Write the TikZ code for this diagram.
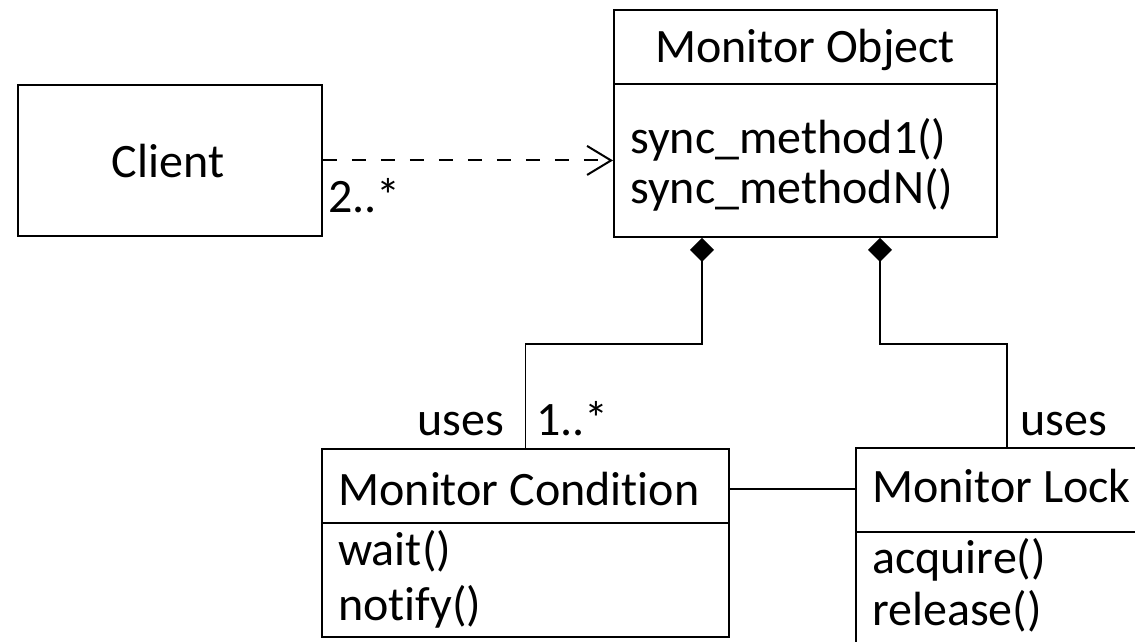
\documentclass[tikz,border=0pt]{standalone}
\usepackage{fontspec}
\setmainfont{Carlito}[Ligatures=NoCommon]
\usetikzlibrary{arrows.meta}
\begin{document}
\begin{tikzpicture}[x=1pt,y=-1pt,
  classbox/.style={draw, line width=1.9pt, rectangle, anchor=north west, inner sep=0pt},
  divider/.style={line width=1.9pt},
  txt/.style={font=\fontsize{48}{56}\selectfont, inner sep=0pt},
  dep/.style={line width=2pt, dash pattern=on 14pt off 15pt,
    -{Straight Barb[length=24pt,width=29pt,line width=2pt]}},
  comp/.style={line width=1.9pt, {Diamond[length=24pt,width=24pt]}-},
  assoc/.style={line width=1.1pt}]
\useasboundingbox (0,0) rectangle (1135,642);
\clip (0,0) rectangle (1135,642);

% class boxes
\node[classbox, minimum width=304pt, minimum height=151pt] (client) at (17,84) {};
\node[classbox, minimum width=383pt, minimum height=227pt] (mo) at (613,9) {};
\node[classbox, minimum width=407pt, minimum height=188pt] (mc) at (321,448) {};
\node[classbox, minimum width=302pt, minimum height=215pt] (ml) at (855,447) {};

% compartment dividers
\draw[divider] ([yshift=-75pt]mo.north west) -- ([yshift=-75pt]mo.north east);
\draw[divider] ([yshift=-75pt]mc.north west) -- ([yshift=-75pt]mc.north east);
\draw[divider] ([yshift=-85pt]ml.north west) -- ([yshift=-85pt]ml.north east);

% class texts
\node[txt, anchor=base] (clientname) at (168,177) {Client};
\node[txt, anchor=base] (moname) at (805,63) {Monitor Object};
\node[txt, anchor=base west] (m1) at (630,153) {sync\_method1()};
\node[txt, anchor=base west] (mN) at (630,203) {sync\_methodN()};
\node[txt, anchor=base] (mcname) at (519,505) {Monitor Condition};
\node[txt, anchor=base west] (wait) at (338,565) {wait()};
\node[txt, anchor=base west] (notify) at (338,620) {notify()};
\node[txt, anchor=base west] (mlname) at (872,502) {Monitor Lock};
\node[txt, anchor=base west] (acq) at (872,573) {acquire()};
\node[txt, anchor=base west] (rel) at (872,625) {release()};

% connectors
\draw[dep] (client.east) -- (client.east -| mo.west);
\draw[comp] ([xshift=89pt]mo.south west) -- ++(0,106) -| (mc.north);
\draw[comp] ([xshift=267pt]mo.south west) -- ++(0,106) -| (ml.north);
\draw[assoc] ([yshift=-41pt]mc.north east) -- ([yshift=-41pt]mc.north east -| ml.west);

% multiplicities and roles
\node[txt, anchor=base west] (mult1) at (328,212) {2..*};
\node[txt, anchor=base east] (uses1) at (504,435) {uses};
\node[txt, anchor=base west] (mult2) at (536,435) {1..*};
\node[txt, anchor=base west] (uses2) at (1020,435) {uses};
\end{tikzpicture}
\end{document}
